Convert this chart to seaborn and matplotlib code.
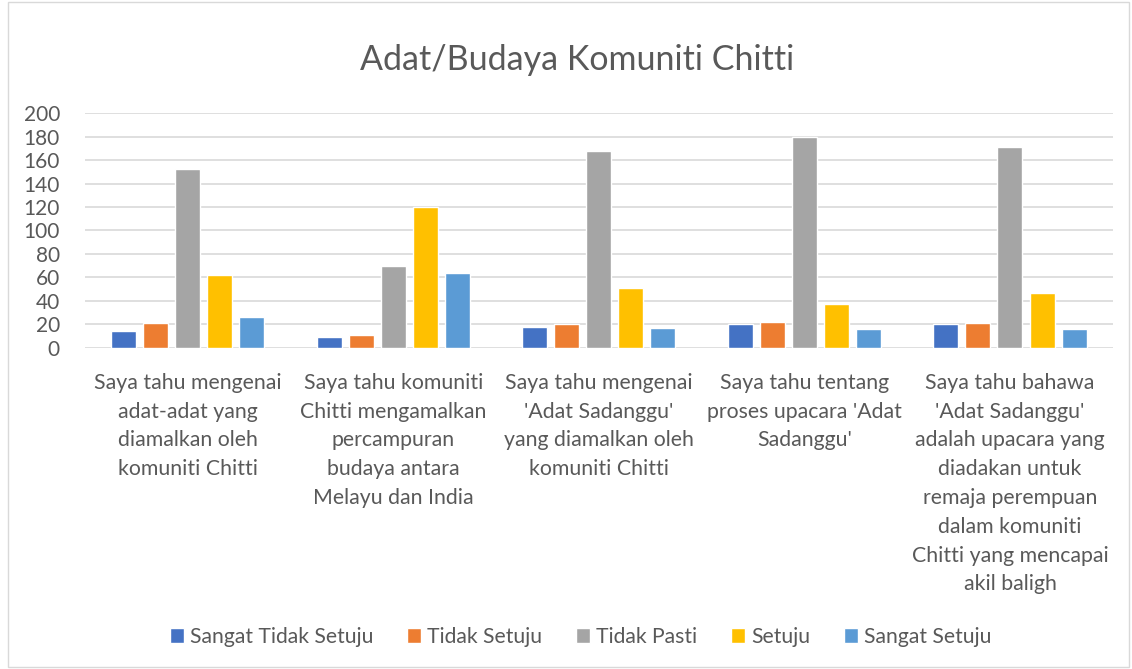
import matplotlib.pyplot as plt
import pandas as pd
import seaborn as sns
from matplotlib.patches import Rectangle

CATEGORIES = [
    "Saya tahu mengenai\nadat-adat yang\ndiamalkan oleh\nkomuniti Chitti",
    "Saya tahu komuniti\nChitti mengamalkan\npercampuran\nbudaya antara\nMelayu dan India",
    "Saya tahu mengenai\n'Adat Sadanggu'\nyang diamalkan oleh\nkomuniti Chitti",
    "Saya tahu tentang\nproses upacara 'Adat\nSadanggu'",
    "Saya tahu bahawa\n'Adat Sadanggu'\nadalah upacara yang\ndiadakan untuk\nremaja perempuan\ndalam komuniti\nChitti yang mencapai\nakil baligh",
]
SERIES = ["Sangat Tidak Setuju", "Tidak Setuju", "Tidak Pasti", "Setuju", "Sangat Setuju"]
sangat_tidak_setuju = [14, 9, 18, 20, 20]
tidak_setuju = [21, 11, 20, 22, 21]
tidak_pasti = [152, 70, 168, 180, 171]
setuju = [62, 120, 51, 37, 47]
sangat_setuju = [26, 64, 17, 16, 16]
COLORS = ["#4472C4", "#ED7D31", "#A5A5A5", "#FFC000", "#5B9BD5"]

sns.set_theme(style="white")
plt.rcParams["font.family"] = ["Lato", "DejaVu Sans"]

rows = []
for name, vals in zip(SERIES, [sangat_tidak_setuju, tidak_setuju, tidak_pasti, setuju, sangat_setuju]):
    for cat, v in zip(CATEGORIES, vals):
        rows.append({"category": cat, "series": name, "value": v})
df = pd.DataFrame(rows)

fig = plt.figure(figsize=(11.32, 6.69), dpi=100)
ax = fig.add_axes([0.075, 0.48, 0.908, 0.351])

sns.barplot(data=df, x="category", y="value", hue="series", hue_order=SERIES,
            order=CATEGORIES, palette=COLORS, width=0.78, gap=0.22,
            saturation=1, ax=ax, legend=True)

ax.set_ylim(0, 200)
ax.set_yticks(range(0, 201, 20))
ax.set_xlim(-0.5, len(CATEGORIES) - 0.5)
ax.yaxis.grid(True, color="#D9D9D9", linewidth=1.2)
ax.set_axisbelow(True)
for s in ax.spines.values():
    s.set_visible(False)
ax.set_xlabel("")
ax.set_ylabel("")
ax.tick_params(axis="y", labelsize=15, labelcolor="#595959", length=0, pad=18)
ax.tick_params(axis="x", labelsize=15.3, labelcolor="#595959", length=0, pad=18)
for t in ax.get_xticklabels():
    t.set_linespacing(1.55)

fig.text(0.51, 0.91, "Adat/Budaya Komuniti Chitti", ha="center", va="center",
         fontsize=24.5, color="#595959")

handles, labels = ax.get_legend_handles_labels()
ax.legend(handles, labels, loc="center", bbox_to_anchor=(0.513, 0.048),
          bbox_transform=fig.transFigure, ncol=5, frameon=False,
          fontsize=15.2, handlelength=0.65, handleheight=0.65, handletextpad=0.3,
          columnspacing=1.6, labelcolor="#595959")

fig.patches.append(Rectangle((0.007, 0.003), 0.99, 0.994, transform=fig.transFigure,
                             fill=False, edgecolor="#D9D9D9", linewidth=1))

fig.savefig("out.png", dpi=100)
